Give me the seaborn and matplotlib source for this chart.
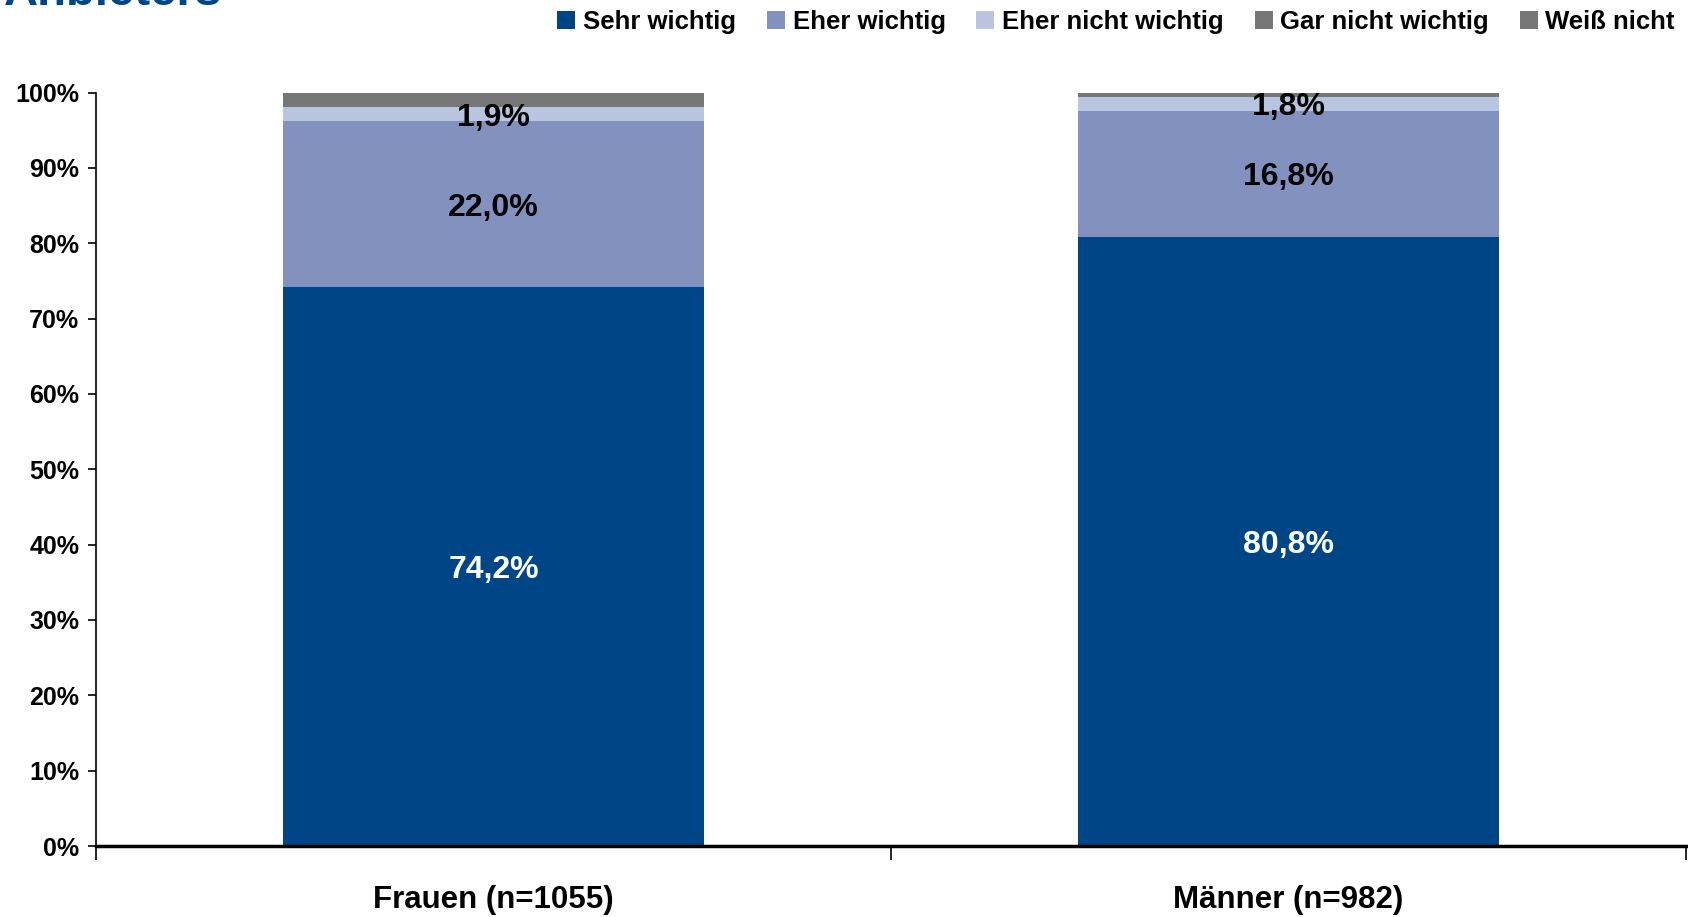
import matplotlib
matplotlib.use("Agg")
import matplotlib.pyplot as plt
import seaborn as sns
import pandas as pd
import numpy as np
from matplotlib.patches import Patch

categories = ["Frauen (n=1055)", "Männer (n=982)"]
series_names = ["Sehr wichtig", "Eher wichtig", "Eher nicht wichtig", "Gar nicht wichtig", "Weiß nicht"]
sehr_wichtig = [74.2, 80.8]
eher_wichtig = [22.0, 16.8]
eher_nicht_wichtig = [1.9, 1.8]
gar_nicht_wichtig = [0.5, 0.2]
weiss_nicht = [1.4, 0.4]
label_series = ["Sehr wichtig", "Eher wichtig", "Eher nicht wichtig"]
yticks = [0, 10, 20, 30, 40, 50, 60, 70, 80, 90, 100]
title_text = "Anbieters"

colors = ["#004586", "#8391BE", "#B9C4DF", "#777777", "#777777"]
label_colors = ["white", "black", "black"]

sns.set_theme(style="white")
plt.rcParams['font.family'] = ['Liberation Sans', 'DejaVu Sans']
plt.rcParams['font.weight'] = 'bold'
plt.rcParams['text.color'] = 'black'
plt.rcParams['xtick.color'] = 'black'
plt.rcParams['ytick.color'] = 'black'

values = [sehr_wichtig, eher_wichtig, eher_nicht_wichtig, gar_nicht_wichtig, weiss_nicht]
df = pd.DataFrame({"Kategorie": categories})
for name, vals in zip(series_names, values):
    df[name] = vals

fig = plt.figure(figsize=(16.88, 9.17), dpi=100)
ax = fig.add_axes([96/1688, 1-846/917, (1686-96)/1688, (846-92.6)/917])

bottom = np.zeros(len(categories))
for i, name in enumerate(series_names):
    sns.barplot(x=df["Kategorie"], y=df[name], bottom=bottom, color=colors[i],
                width=0.53, ax=ax, saturation=1, linewidth=0)
    if name in label_series:
        for j, v in enumerate(df[name]):
            ax.text(j, bottom[j] + v/2, f"{v:.1f}%".replace(".", ","),
                    ha="center", va="center_baseline", fontsize=23, fontweight="bold",
                    color=label_colors[label_series.index(name)])
    bottom = bottom + df[name].values

ax.set_xlim(-0.5, 1.5)
ax.set_ylim(0, 100)
ax.set_yticks(yticks)
ax.set_yticklabels([f"{t}%" for t in yticks], fontsize=18, fontweight="bold")
ax.set_xticks([0, 1])
ax.set_xticklabels(categories, fontsize=22.5, fontweight="bold")
ax.tick_params(axis="x", length=0, pad=28)
ax.tick_params(axis="y", length=6, width=1.2, direction="out", left=True, pad=6)
ax.set_xticks([-0.5, 0.5, 1.5], minor=True)
ax.tick_params(axis="x", which="minor", length=10, width=1.2, direction="out", bottom=True)
ax.set_xlabel("")
ax.set_ylabel("")
for s in ["top", "right"]:
    ax.spines[s].set_visible(False)
ax.spines["left"].set_color("black")
ax.spines["left"].set_linewidth(1.2)
ax.spines["bottom"].set_color("black")
ax.spines["bottom"].set_linewidth(2.5)

handles = [Patch(facecolor=c, edgecolor="none") for c in colors]
fig.legend(handles, series_names, loc="center right", bbox_to_anchor=(1698/1688, 1-22/917),
           ncol=5, frameon=False, handlelength=0.7, handleheight=0.7,
           handletextpad=0.3, columnspacing=1.2, prop={"weight": "bold", "size": 18.5})

fig.text(222/1688, 1-5/917, title_text, ha="right", va="baseline", fontsize=34,
         fontweight="bold", color="#004586")

fig.savefig("out.png", dpi=100)
